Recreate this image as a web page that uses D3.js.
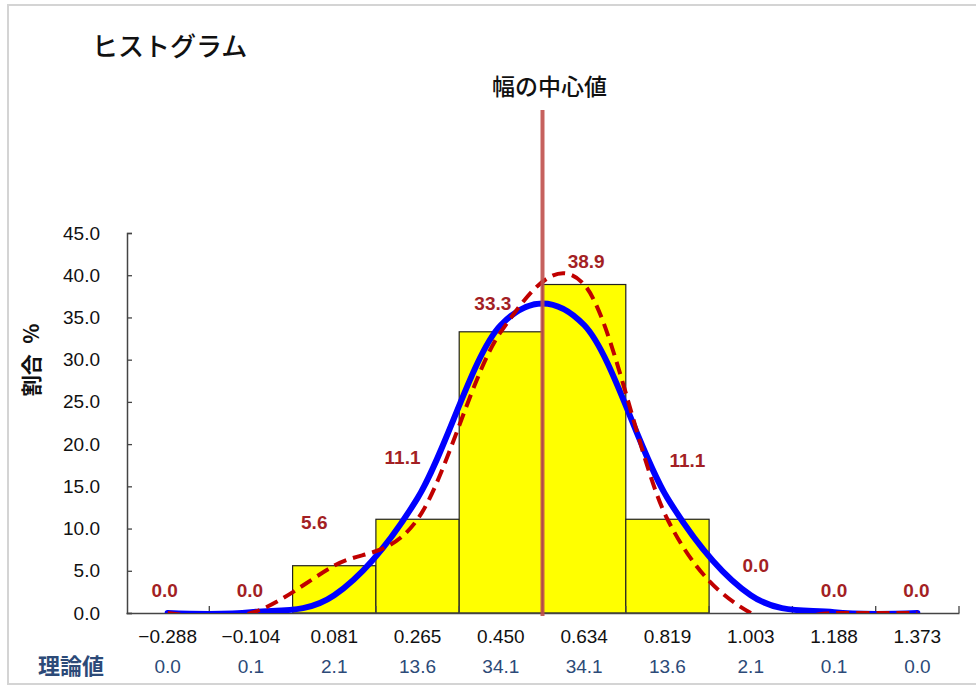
<!DOCTYPE html>
<html>
<head>
<meta charset="utf-8">
<script src="https://cdn.jsdelivr.net/npm/d3@7"></script>
<style>
  html, body { margin: 0; padding: 0; background: #fff; }
  svg { display: block; }
  text { font-family: "Liberation Sans", Arial, "Noto Sans CJK JP", sans-serif; }
  .jp { font-family: "Noto Sans CJK JP", "Liberation Sans", sans-serif; }
</style>
</head>
<body>
<svg id="chart" width="976" height="686"></svg>
<script>
// ---- data ----
const categories = ["\u22120.288", "\u22120.104", "0.081", "0.265", "0.450", "0.634", "0.819", "1.003", "1.188", "1.373"];
const observed = [0.0, 0.0, 5.6, 11.1, 33.3, 38.9, 11.1, 0.0, 0.0, 0.0];
const theoretical = [0.0, 0.1, 2.1, 13.6, 34.1, 34.1, 13.6, 2.1, 0.1, 0.0];
const yTicks = [0, 5, 10, 15, 20, 25, 30, 35, 40, 45];
const titleText = "ヒストグラム";
const yTitle = "割合\u2002%";
const theoryTitle = "理論値";
const centerLabel = "幅の中心値";
const centerAfterIndex = 4; // centre line sits between bins 4 and 5

// label offsets (layout) for observed data labels, in px relative to point
const labelOffsets = [[-3, -23], [-1, -23], [-20, -44], [-15, -62], [-8, -29], [2, -24], [20, -59], [5, -48], [0, -23], [-1, -23]];

// ---- layout ----
const plot = { left: 126, right: 959, top: 233, bottom: 613 };

const svg = d3.select("#chart");

// outer frame
svg.append("rect").attr("x", 8).attr("y", 5).attr("width", 980).attr("height", 679)
  .attr("fill", "#fff").attr("stroke", "#d4d4d4").attr("stroke-width", 2);

const x = d3.scaleBand().domain(categories).range([plot.left, plot.right]).padding(0);
const y = d3.scaleLinear().domain([0, 45]).range([plot.bottom, plot.top]);
const cx = d => x(d) + x.bandwidth() / 2;

// title
svg.append("text").attr("class", "jp").attr("x", 92).attr("y", 56)
  .attr("font-size", 26).attr("font-weight", 500).attr("fill", "#111").text(titleText);

// clip
svg.append("clipPath").attr("id", "clip").append("rect")
  .attr("x", plot.left).attr("y", plot.top - 10)
  .attr("width", plot.right - plot.left).attr("height", plot.bottom - plot.top + 10);

// bars
svg.append("g").selectAll("rect")
  .data(categories.map((c, i) => ({ c, v: observed[i] })).filter(d => d.v > 0))
  .join("rect")
  .attr("x", d => x(d.c)).attr("width", x.bandwidth())
  .attr("y", d => y(d.v)).attr("height", d => y(0) - y(d.v))
  .attr("fill", "#ffff00").attr("stroke", "#222").attr("stroke-width", 1.2);

// y axis
const yAxis = d3.axisLeft(y).tickValues(yTicks).tickSize(-5).tickPadding(27)
  .tickFormat(d3.format(".1f"));
const gy = svg.append("g").attr("transform", `translate(${plot.left + 1},0)`).call(yAxis);
gy.select(".domain").attr("stroke", "#444").attr("stroke-width", 1.5);
gy.selectAll(".tick line").attr("stroke", "#444").attr("stroke-width", 1.3);
gy.selectAll(".tick text").attr("font-size", 19).attr("fill", "#111")
  .attr("font-family", "'Liberation Sans', Arial, sans-serif");

// x axis
const xAxis = d3.axisBottom(x).tickSize(0).tickPadding(17);
const gx = svg.append("g").attr("transform", `translate(0,${plot.bottom})`).call(xAxis);
gx.select(".domain").attr("stroke", "#444").attr("stroke-width", 1.5);
gx.selectAll(".tick text").attr("font-size", 19).attr("fill", "#111")
  .attr("font-family", "'Liberation Sans', Arial, sans-serif");
// boundary ticks (inward)
const boundaries = categories.slice(1).map(c => x(c)).concat([plot.right]);
gx.append("g").selectAll("line").data(boundaries).join("line")
  .attr("x1", d => d).attr("x2", d => d).attr("y1", 0).attr("y2", -7)
  .attr("stroke", "#444").attr("stroke-width", 1.3);

// theoretical values row
svg.append("text").attr("class", "jp").attr("x", 71).attr("y", 674)
  .attr("text-anchor", "middle").attr("font-size", 22).attr("font-weight", "bold")
  .attr("fill", "#2c4a78").text(theoryTitle);
svg.append("g").selectAll("text").data(categories.map((c, i) => ({ c, v: theoretical[i] })))
  .join("text")
  .attr("x", d => cx(d.c)).attr("y", 673).attr("text-anchor", "middle")
  .attr("font-size", 19).attr("fill", "#2c4a78")
  .text(d => d3.format(".1f")(d.v));

// curves
const pts = arr => categories.map((c, i) => [cx(c), y(arr[i])]);
const line = d3.line().curve(d3.curveCardinal.tension(0));
const curves = svg.append("g").attr("clip-path", "url(#clip)");
curves.append("path").attr("d", line(pts(theoretical)))
  .attr("fill", "none").attr("stroke", "#0000ff").attr("stroke-width", 6)
  .attr("stroke-linecap", "round");
curves.append("path").attr("d", line(pts(observed)))
  .attr("fill", "none").attr("stroke", "#c00000").attr("stroke-width", 4)
  .attr("stroke-dasharray", "13,7");

// centre line
const xc = x(categories[centerAfterIndex + 1]);
svg.append("line").attr("x1", xc).attr("x2", xc).attr("y1", 110).attr("y2", plot.bottom + 3)
  .attr("stroke", "#c0504d").attr("stroke-width", 4).attr("stroke-opacity", 0.9);
svg.append("text").attr("class", "jp").attr("x", xc + 7).attr("y", 95)
  .attr("text-anchor", "middle").attr("font-size", 23).attr("font-weight", 500)
  .attr("fill", "#111").text(centerLabel);

// data labels
svg.append("g").selectAll("text").data(categories.map((c, i) => ({ c, v: observed[i], o: labelOffsets[i] })))
  .join("text")
  .attr("x", d => cx(d.c) + d.o[0]).attr("y", d => y(d.v) + d.o[1] + 7)
  .attr("text-anchor", "middle").attr("font-size", 19).attr("font-weight", "bold")
  .attr("fill", "#a31f24")
  .text(d => d3.format(".1f")(d.v));

// y title
svg.append("text").attr("class", "jp")
  .attr("transform", "translate(39,360) rotate(-90)")
  .attr("text-anchor", "middle").attr("font-size", 21).attr("font-weight", "bold")
  .attr("fill", "#111").text(yTitle);
</script>
</body>
</html>
